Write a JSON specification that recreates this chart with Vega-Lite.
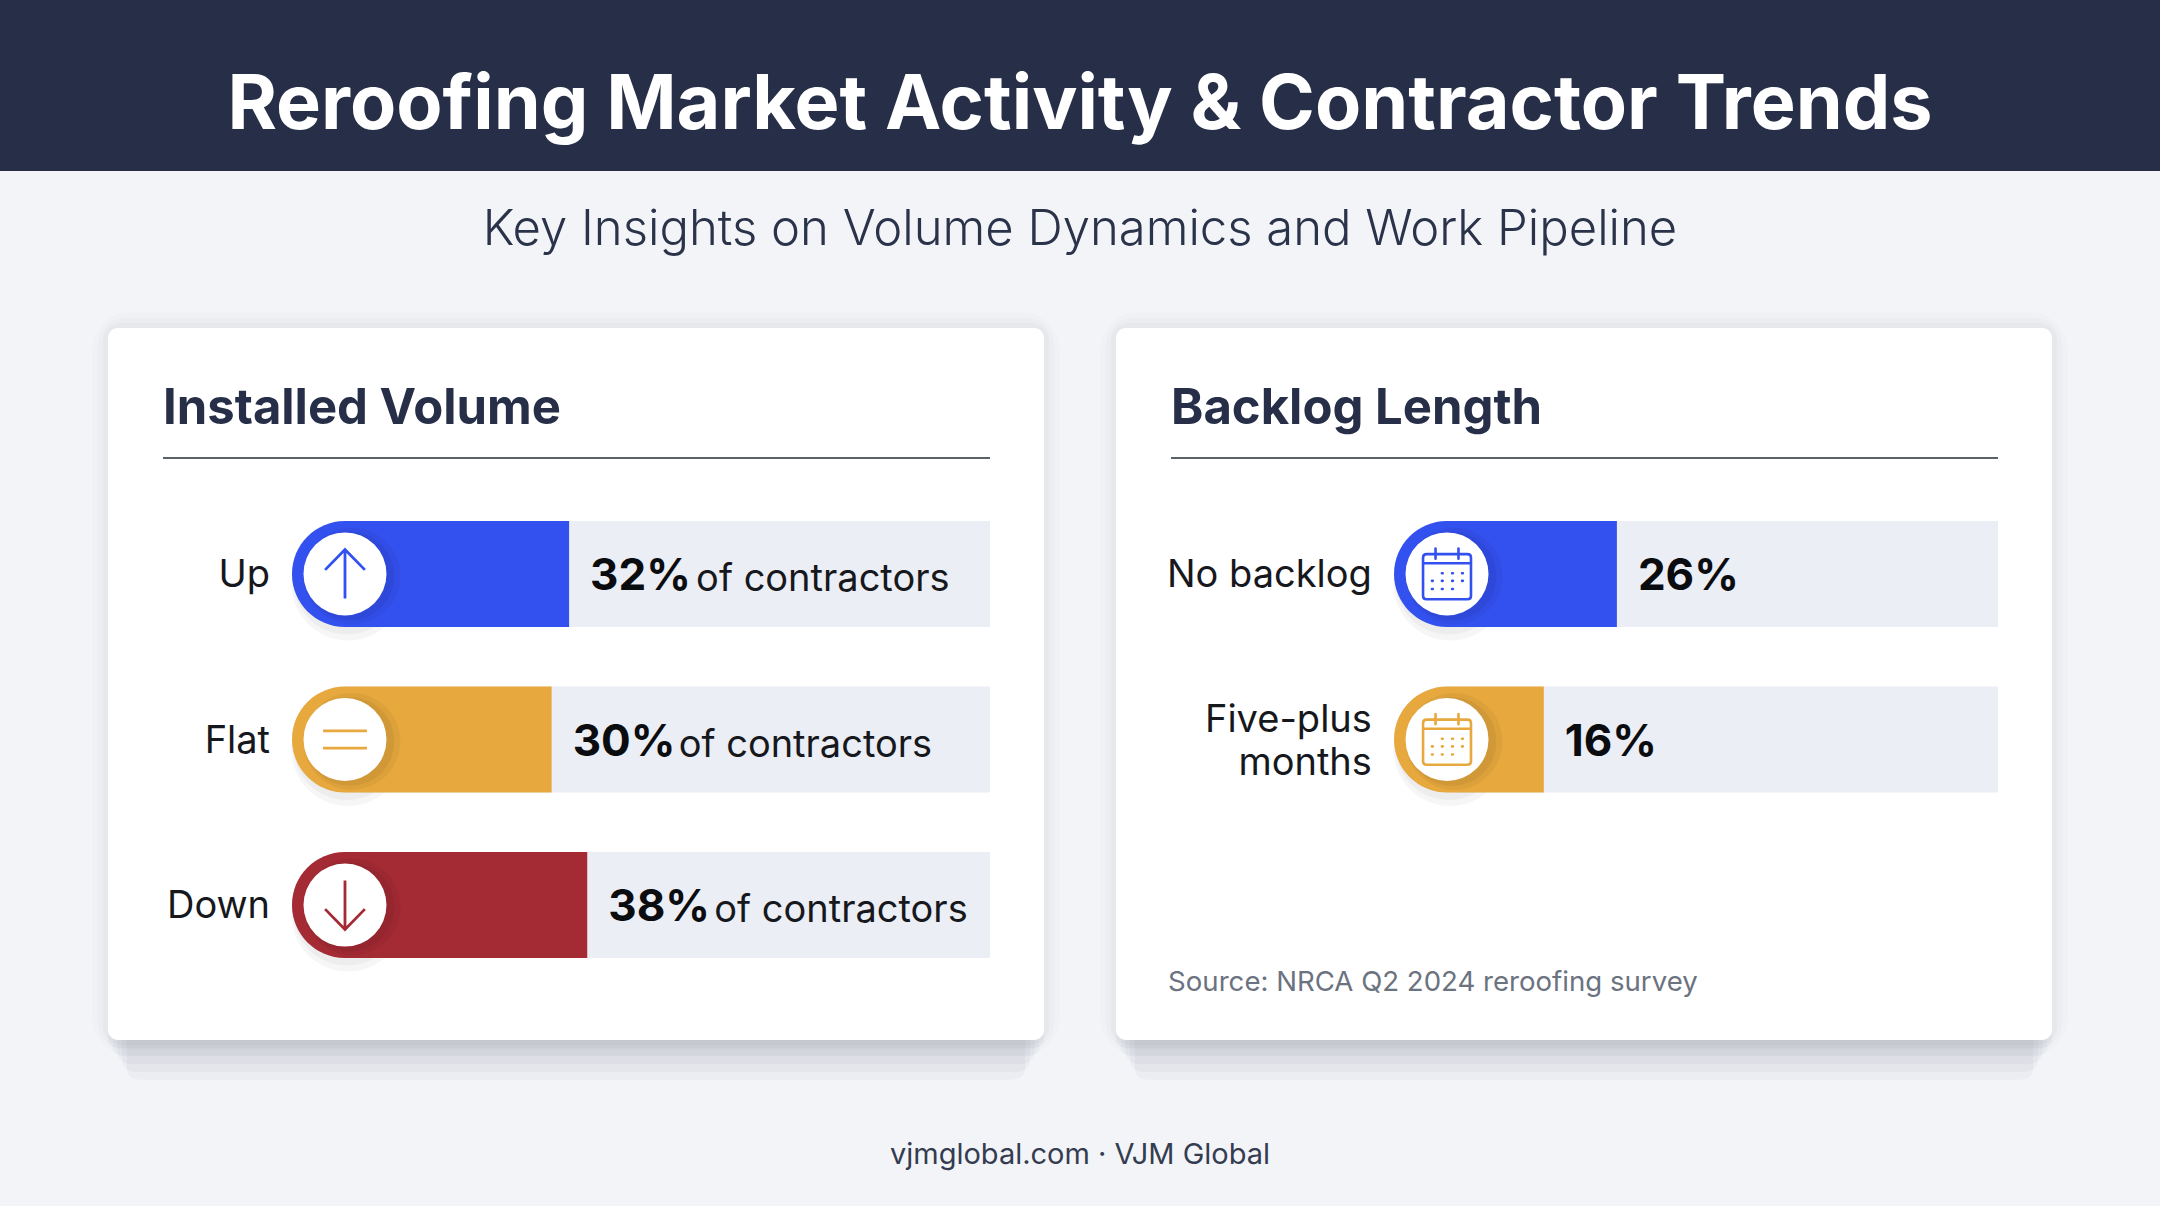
{
  "$schema": "https://vega.github.io/schema/vega-lite/v6.json",
  "background": "#f3f4f8",
  "padding": 0,
  "config": {"view": {"stroke": null}, "font": "Inter"},
  "datasets": {
    "volume": [
      {"category": "Up", "pct": 0.32, "bar_share_of_track": 39.7, "track": 100, "icon": "up", "note": "of contractors"},
      {"category": "Flat", "pct": 0.30, "bar_share_of_track": 37.2, "track": 100, "icon": "flat", "note": "of contractors"},
      {"category": "Down", "pct": 0.38, "bar_share_of_track": 42.3, "track": 100, "icon": "down", "note": "of contractors"}
    ],
    "backlog": [
      {"category": "No backlog", "pct": 0.26, "bar_share_of_track": 36.9, "track": 100, "icon": "calendar", "label": "No backlog"},
      {"category": "Five-plus months", "pct": 0.16, "bar_share_of_track": 24.8, "track": 100, "icon": "calendar", "label": "Five-plus\nmonths"}
    ]
  },
  "vconcat": [
    {
      "width": 2160, "height": 171,
      "view": {"fill": "#262f47", "stroke": null},
      "data": {"values": [{"t": "Reroofing Market Activity & Contractor Trends"}]},
      "mark": {"type": "text", "font": "Inter", "fontWeight": 700, "fontSize": 75.5, "color": "#ffffff", "baseline": "middle", "dy": 20},
      "encoding": {"text": {"field": "t", "type": "nominal"}}
    },
    {
      "width": 2160, "height": 141,
      "data": {"values": [{"t": "Key Insights on Volume Dynamics and Work Pipeline"}]},
      "mark": {"type": "text", "font": "Inter", "fontWeight": 300, "fontSize": 49, "color": "#2a334a", "baseline": "middle", "dy": -12},
      "encoding": {"text": {"field": "t", "type": "nominal"}}
    },
    {
      "hconcat": [
        {
          "width": 36, "height": 712,
          "data": {"values": [{"spacer": "left margin"}]},
          "mark": {"type": "point", "opacity": 0},
          "encoding": {}
        },
        {
          "width": 936, "height": 712,
          "title": {"text": "Installed Volume", "anchor": "start", "frame": "group", "dx": 55, "offset": -161, "baseline": "alphabetic", "font": "Inter", "fontWeight": 700, "fontSize": 49, "color": "#262f47", "zindex": 1},
          "layer": [
            {"data": {"values": [{"card": "Installed Volume"}]}, "mark": {"type": "point", "filled": true, "color": "#1a2030", "opacity": 0.03, "size": 876096, "yOffset": 40, "shape": "M-0.96,-0.76 L0.96,-0.76 L0.96,0.73 Q0.96,0.76 0.93,0.76 L-0.93,0.76 Q-0.96,0.76 -0.96,0.73 Z"}, "encoding": {}},
            {"data": {"values": [{"card": "Installed Volume"}]}, "mark": {"type": "point", "filled": true, "color": "#1a2030", "opacity": 0.03, "size": 876096, "yOffset": 32, "shape": "M-0.97,-0.76 L0.97,-0.76 L0.97,0.73 Q0.97,0.76 0.94,0.76 L-0.94,0.76 Q-0.97,0.76 -0.97,0.73 Z"}, "encoding": {}},
            {"data": {"values": [{"card": "Installed Volume"}]}, "mark": {"type": "point", "filled": true, "color": "#1a2030", "opacity": 0.03, "size": 876096, "yOffset": 24, "shape": "M-0.98,-0.76 L0.98,-0.76 L0.98,0.73 Q0.98,0.76 0.95,0.76 L-0.95,0.76 Q-0.98,0.76 -0.98,0.73 Z"}, "encoding": {}},
            {"data": {"values": [{"card": "Installed Volume"}]}, "mark": {"type": "point", "filled": true, "color": "#1a2030", "opacity": 0.03, "size": 876096, "yOffset": 16, "shape": "M-0.99,-0.76 L0.99,-0.76 L0.99,0.74 Q0.99,0.76 0.97,0.76 L-0.97,0.76 Q-0.99,0.76 -0.99,0.74 Z"}, "encoding": {}},
            {"data": {"values": [{"card": "Installed Volume"}]}, "mark": {"type": "point", "filled": true, "color": "#1a2030", "opacity": 0.03, "size": 876096, "yOffset": 8, "shape": "M-1,-0.76 L1,-0.76 L1,0.74 Q1,0.76 0.98,0.76 L-0.98,0.76 Q-1,0.76 -1,0.74 Z"}, "encoding": {}},
            {"data": {"values": [{"card": "Installed Volume"}]}, "mark": {"type": "rect", "fillOpacity": 0, "stroke": "#1a2030", "strokeWidth": 32, "strokeOpacity": 0.015, "cornerRadius": 24}, "encoding": {}},
            {"data": {"values": [{"card": "Installed Volume"}]}, "mark": {"type": "rect", "fillOpacity": 0, "stroke": "#1a2030", "strokeWidth": 20, "strokeOpacity": 0.02, "cornerRadius": 18}, "encoding": {}},
            {"data": {"values": [{"card": "Installed Volume"}]}, "mark": {"type": "rect", "fillOpacity": 0, "stroke": "#1a2030", "strokeWidth": 10, "strokeOpacity": 0.025, "cornerRadius": 14}, "encoding": {}},
            {"data": {"values": [{"card": "Installed Volume"}]}, "mark": {"type": "rect", "fill": "#ffffff", "cornerRadius": 10}, "encoding": {}},
            {
              "data": {"values": [{"divider": "Installed Volume"}]},
              "mark": {"type": "point", "shape": "M-1,0 L1,0", "filled": false, "color": "#5b6168", "opacity": 1, "strokeWidth": 2, "size": 683929, "yOffset": -116},
              "encoding": {
                "x": {"datum": 40.76, "type": "quantitative", "scale": {"domain": [-26.36, 107.74], "nice": false, "zero": false}, "axis": null},
                "y": {"datum": "Up", "type": "nominal", "scale": {"domain": ["Up", "Flat", "Down"], "range": [163.2, 659.8], "paddingInner": 0.36, "paddingOuter": 0.18}, "axis": null}
              }
            },
            {
              "data": {"name": "volume"},
              "layer": [
                {"mark": {"type": "bar", "color": "#ebeef4", "cornerRadiusTopLeft": 53, "cornerRadiusBottomLeft": 53}, "encoding": {"x": {"field": "track", "type": "quantitative", "stack": null}, "y": {"field": "category", "type": "nominal"}}},
                {"mark": {"type": "point", "filled": true, "shape": "circle", "color": "#000000", "opacity": 0.035, "size": 12800, "xOffset": 56, "yOffset": 10}, "encoding": {"x": {"datum": 0, "type": "quantitative"}, "y": {"field": "category", "type": "nominal"}}},
                {"mark": {"type": "point", "filled": true, "shape": "circle", "color": "#000000", "opacity": 0.035, "size": 11500, "xOffset": 55, "yOffset": 7}, "encoding": {"x": {"datum": 0, "type": "quantitative"}, "y": {"field": "category", "type": "nominal"}}},
                {"mark": {"type": "bar", "cornerRadiusTopLeft": 53, "cornerRadiusBottomLeft": 53}, "encoding": {"x": {"field": "bar_share_of_track", "type": "quantitative", "stack": null}, "y": {"field": "category", "type": "nominal"}, "color": {"field": "category", "type": "nominal", "scale": {"domain": ["Up", "Flat", "Down"], "range": ["#3351ef", "#e7a83e", "#a42a33"]}, "legend": null}}},
                {"mark": {"type": "point", "filled": true, "shape": "circle", "color": "#000000", "opacity": 0.04, "size": 9400, "xOffset": 60, "yOffset": 2}, "encoding": {"x": {"datum": 0, "type": "quantitative"}, "y": {"field": "category", "type": "nominal"}}},
                {"mark": {"type": "point", "filled": true, "shape": "circle", "color": "#000000", "opacity": 0.05, "size": 7900, "xOffset": 58, "yOffset": 2}, "encoding": {"x": {"datum": 0, "type": "quantitative"}, "y": {"field": "category", "type": "nominal"}}},
                {"mark": {"type": "point", "filled": true, "shape": "circle", "color": "#ffffff", "opacity": 1, "size": 6889, "xOffset": 53}, "encoding": {"x": {"datum": 0, "type": "quantitative"}, "y": {"field": "category", "type": "nominal"}}},
                {"mark": {"type": "point", "filled": false, "opacity": 1, "size": 2601, "strokeWidth": 2.8, "xOffset": 53}, "encoding": {"x": {"datum": 0, "type": "quantitative"}, "y": {"field": "category", "type": "nominal"}, "shape": {"field": "icon", "type": "nominal", "scale": {"domain": ["up", "flat", "down"], "range": ["M0,0.96 L0,-0.96 M-0.78,-0.16 L0,-0.96 L0.78,-0.16", "M-0.86,-0.34 L0.86,-0.34 M-0.86,0.34 L0.86,0.34", "M0,-0.96 L0,0.96 M-0.78,0.16 L0,0.96 L0.78,0.16"]}, "legend": null}, "color": {"field": "category", "type": "nominal", "legend": null}}},
                {"mark": {"type": "text", "align": "right", "baseline": "middle", "font": "Inter", "fontWeight": 400, "fontSize": 38, "color": "#16181d", "dx": -1, "dy": 2}, "encoding": {"x": {"datum": -3, "type": "quantitative"}, "y": {"field": "category", "type": "nominal"}, "text": {"field": "category", "type": "nominal"}}},
                {"mark": {"type": "text", "align": "left", "baseline": "middle", "font": "Inter", "fontWeight": 700, "fontSize": 44, "color": "#0b0c10", "dx": 21, "dy": 3}, "encoding": {"x": {"field": "bar_share_of_track", "type": "quantitative"}, "y": {"field": "category", "type": "nominal"}, "text": {"field": "pct", "type": "quantitative", "format": ".0%"}}},
                {"mark": {"type": "text", "align": "left", "baseline": "middle", "font": "Inter", "fontWeight": 400, "fontSize": 38, "color": "#16181d", "dx": 127, "dy": 6}, "encoding": {"x": {"field": "bar_share_of_track", "type": "quantitative"}, "y": {"field": "category", "type": "nominal"}, "text": {"field": "note", "type": "nominal"}}}
              ]
            }
          ]
        },
        {
          "width": 936, "height": 712,
          "title": {"text": "Backlog Length", "anchor": "start", "frame": "group", "dx": 55, "offset": -161, "baseline": "alphabetic", "font": "Inter", "fontWeight": 700, "fontSize": 49, "color": "#262f47", "zindex": 1},
          "layer": [
            {"data": {"values": [{"card": "Backlog Length"}]}, "mark": {"type": "point", "filled": true, "color": "#1a2030", "opacity": 0.03, "size": 876096, "yOffset": 40, "shape": "M-0.96,-0.76 L0.96,-0.76 L0.96,0.73 Q0.96,0.76 0.93,0.76 L-0.93,0.76 Q-0.96,0.76 -0.96,0.73 Z"}, "encoding": {}},
            {"data": {"values": [{"card": "Backlog Length"}]}, "mark": {"type": "point", "filled": true, "color": "#1a2030", "opacity": 0.03, "size": 876096, "yOffset": 32, "shape": "M-0.97,-0.76 L0.97,-0.76 L0.97,0.73 Q0.97,0.76 0.94,0.76 L-0.94,0.76 Q-0.97,0.76 -0.97,0.73 Z"}, "encoding": {}},
            {"data": {"values": [{"card": "Backlog Length"}]}, "mark": {"type": "point", "filled": true, "color": "#1a2030", "opacity": 0.03, "size": 876096, "yOffset": 24, "shape": "M-0.98,-0.76 L0.98,-0.76 L0.98,0.73 Q0.98,0.76 0.95,0.76 L-0.95,0.76 Q-0.98,0.76 -0.98,0.73 Z"}, "encoding": {}},
            {"data": {"values": [{"card": "Backlog Length"}]}, "mark": {"type": "point", "filled": true, "color": "#1a2030", "opacity": 0.03, "size": 876096, "yOffset": 16, "shape": "M-0.99,-0.76 L0.99,-0.76 L0.99,0.74 Q0.99,0.76 0.97,0.76 L-0.97,0.76 Q-0.99,0.76 -0.99,0.74 Z"}, "encoding": {}},
            {"data": {"values": [{"card": "Backlog Length"}]}, "mark": {"type": "point", "filled": true, "color": "#1a2030", "opacity": 0.03, "size": 876096, "yOffset": 8, "shape": "M-1,-0.76 L1,-0.76 L1,0.74 Q1,0.76 0.98,0.76 L-0.98,0.76 Q-1,0.76 -1,0.74 Z"}, "encoding": {}},
            {"data": {"values": [{"card": "Backlog Length"}]}, "mark": {"type": "rect", "fillOpacity": 0, "stroke": "#1a2030", "strokeWidth": 32, "strokeOpacity": 0.015, "cornerRadius": 24}, "encoding": {}},
            {"data": {"values": [{"card": "Backlog Length"}]}, "mark": {"type": "rect", "fillOpacity": 0, "stroke": "#1a2030", "strokeWidth": 20, "strokeOpacity": 0.02, "cornerRadius": 18}, "encoding": {}},
            {"data": {"values": [{"card": "Backlog Length"}]}, "mark": {"type": "rect", "fillOpacity": 0, "stroke": "#1a2030", "strokeWidth": 10, "strokeOpacity": 0.025, "cornerRadius": 14}, "encoding": {}},
            {"data": {"values": [{"card": "Backlog Length"}]}, "mark": {"type": "rect", "fill": "#ffffff", "cornerRadius": 10}, "encoding": {}},
            {
              "data": {"values": [{"divider": "Backlog Length"}]},
              "mark": {"type": "point", "shape": "M-1,0 L1,0", "filled": false, "color": "#5b6168", "opacity": 1, "strokeWidth": 2, "size": 683929, "yOffset": -116},
              "encoding": {
                "x": {"datum": 31.54, "type": "quantitative", "scale": {"domain": [-46.03, 108.94], "nice": false, "zero": false}, "axis": null},
                "y": {"datum": "No backlog", "type": "nominal", "scale": {"domain": ["No backlog", "Five-plus months", "Source"], "range": [163.2, 659.8], "paddingInner": 0.36, "paddingOuter": 0.18}, "axis": null}
              }
            },
            {
              "data": {"values": [{"t": "Source: NRCA Q2 2024 reroofing survey"}]},
              "mark": {"type": "text", "align": "left", "baseline": "middle", "font": "Inter", "fontWeight": 400, "fontSize": 27.6, "color": "#6b7280", "dy": 78},
              "encoding": {"x": {"datum": -37.4, "type": "quantitative"}, "y": {"datum": "Source", "type": "nominal"}, "text": {"field": "t", "type": "nominal"}}
            },
            {
              "data": {"name": "backlog"},
              "layer": [
                {"mark": {"type": "bar", "color": "#ebeef4", "cornerRadiusTopLeft": 53, "cornerRadiusBottomLeft": 53}, "encoding": {"x": {"field": "track", "type": "quantitative", "stack": null}, "y": {"field": "category", "type": "nominal"}}},
                {"mark": {"type": "point", "filled": true, "shape": "circle", "color": "#000000", "opacity": 0.035, "size": 12800, "xOffset": 56, "yOffset": 10}, "encoding": {"x": {"datum": 0, "type": "quantitative"}, "y": {"field": "category", "type": "nominal"}}},
                {"mark": {"type": "point", "filled": true, "shape": "circle", "color": "#000000", "opacity": 0.035, "size": 11500, "xOffset": 55, "yOffset": 7}, "encoding": {"x": {"datum": 0, "type": "quantitative"}, "y": {"field": "category", "type": "nominal"}}},
                {"mark": {"type": "bar", "cornerRadiusTopLeft": 53, "cornerRadiusBottomLeft": 53}, "encoding": {"x": {"field": "bar_share_of_track", "type": "quantitative", "stack": null}, "y": {"field": "category", "type": "nominal"}, "color": {"field": "category", "type": "nominal", "scale": {"domain": ["No backlog", "Five-plus months"], "range": ["#3351ef", "#e7a83e"]}, "legend": null}}},
                {"mark": {"type": "point", "filled": true, "shape": "circle", "color": "#000000", "opacity": 0.04, "size": 9400, "xOffset": 60, "yOffset": 2}, "encoding": {"x": {"datum": 0, "type": "quantitative"}, "y": {"field": "category", "type": "nominal"}}},
                {"mark": {"type": "point", "filled": true, "shape": "circle", "color": "#000000", "opacity": 0.05, "size": 7900, "xOffset": 58, "yOffset": 2}, "encoding": {"x": {"datum": 0, "type": "quantitative"}, "y": {"field": "category", "type": "nominal"}}},
                {"mark": {"type": "point", "filled": true, "shape": "circle", "color": "#ffffff", "opacity": 1, "size": 6889, "xOffset": 53}, "encoding": {"x": {"datum": 0, "type": "quantitative"}, "y": {"field": "category", "type": "nominal"}}},
                {"mark": {"type": "point", "filled": false, "opacity": 1, "size": 2601, "strokeWidth": 2.6, "strokeCap": "round", "xOffset": 53}, "encoding": {"x": {"datum": 0, "type": "quantitative"}, "y": {"field": "category", "type": "nominal"}, "shape": {"field": "icon", "type": "nominal", "scale": {"domain": ["calendar"], "range": ["M-0.8,-0.78 L0.8,-0.78 Q0.94,-0.78 0.94,-0.64 L0.94,0.85 Q0.94,0.99 0.8,0.99 L-0.8,0.99 Q-0.94,0.99 -0.94,0.85 L-0.94,-0.64 Q-0.94,-0.78 -0.8,-0.78 Z M-0.94,-0.42 L0.94,-0.42 M-0.45,-1 L-0.45,-0.6 M0.45,-1 L0.45,-0.6 M-0.2,-0.03 L-0.17,-0.03 M0.2,-0.03 L0.23,-0.03 M0.59,-0.03 L0.62,-0.03 M-0.59,0.27 L-0.56,0.27 M-0.2,0.27 L-0.17,0.27 M0.2,0.27 L0.23,0.27 M0.59,0.27 L0.62,0.27 M-0.59,0.59 L-0.56,0.59 M-0.2,0.59 L-0.17,0.59 M0.2,0.59 L0.23,0.59"]}, "legend": null}, "color": {"field": "category", "type": "nominal", "legend": null}}},
                {"transform": [{"filter": "datum.category === 'No backlog'"}], "mark": {"type": "text", "align": "right", "baseline": "middle", "font": "Inter", "fontWeight": 400, "fontSize": 38, "color": "#16181d", "dx": -1, "dy": 2}, "encoding": {"x": {"datum": -3.5, "type": "quantitative"}, "y": {"field": "category", "type": "nominal"}, "text": {"field": "label", "type": "nominal"}}},
                {"transform": [{"filter": "datum.category === 'Five-plus months'"}], "mark": {"type": "text", "align": "right", "baseline": "middle", "font": "Inter", "fontWeight": 400, "fontSize": 38, "color": "#16181d", "lineBreak": "\n", "lineHeight": 43, "dx": -1, "dy": -19}, "encoding": {"x": {"datum": -3.5, "type": "quantitative"}, "y": {"field": "category", "type": "nominal"}, "text": {"field": "label", "type": "nominal"}}},
                {"mark": {"type": "text", "align": "left", "baseline": "middle", "font": "Inter", "fontWeight": 700, "fontSize": 44, "color": "#0b0c10", "dx": 21, "dy": 3}, "encoding": {"x": {"field": "bar_share_of_track", "type": "quantitative"}, "y": {"field": "category", "type": "nominal"}, "text": {"field": "pct", "type": "quantitative", "format": ".0%"}}}
              ]
            }
          ]
        }
      ],
      "spacing": 72,
      "bounds": "flush",
      "resolve": {"scale": {"color": "independent", "shape": "independent"}}
    },
    {
      "width": 2160, "height": 126,
      "data": {"values": [{"t": "vjmglobal.com · VJM Global"}]},
      "mark": {"type": "text", "font": "Inter", "fontWeight": 400, "fontSize": 29, "color": "#333c50", "baseline": "middle", "dy": 12},
      "encoding": {"text": {"field": "t", "type": "nominal"}}
    }
  ],
  "spacing": 0
}
